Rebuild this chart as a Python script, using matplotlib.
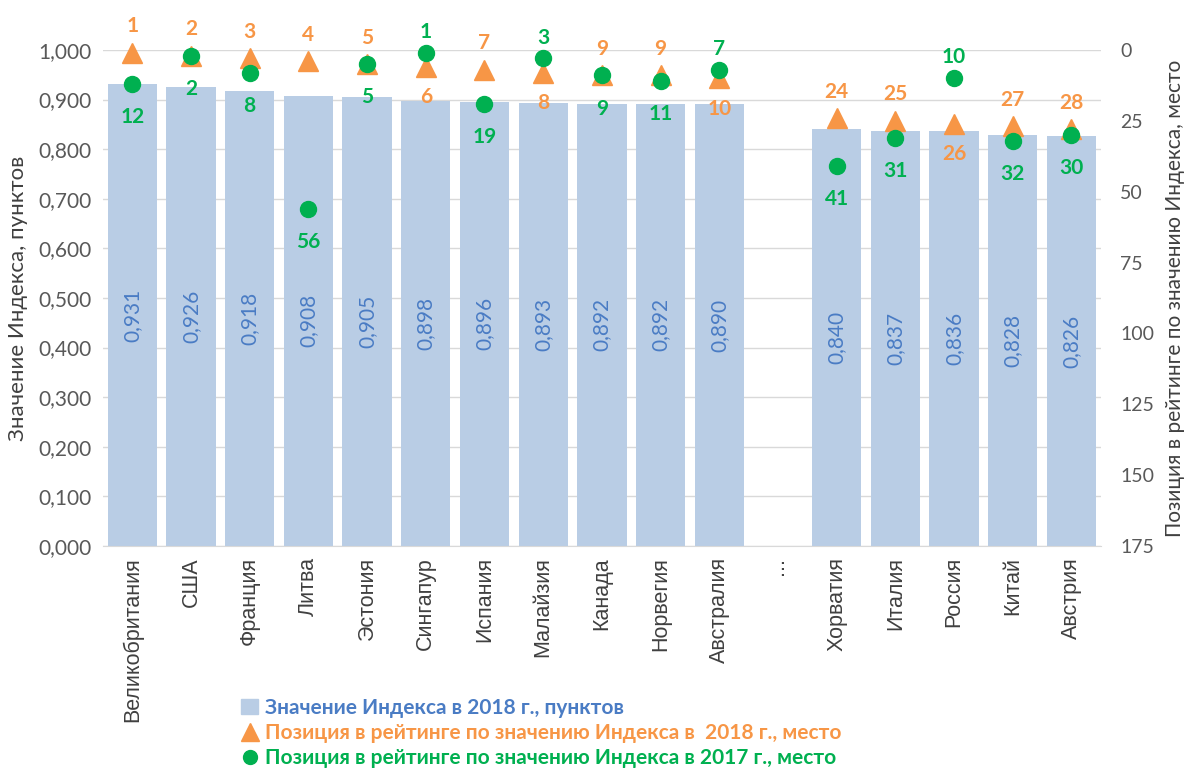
import numpy as np
import matplotlib.pyplot as plt
from matplotlib.lines import Line2D
from matplotlib.patches import Patch

countries = ['Великобритания', 'США', 'Франция', 'Литва', 'Эстония', 'Сингапур',
             'Испания', 'Малайзия', 'Канада', 'Норвегия', 'Австралия', '...',
             'Хорватия', 'Италия', 'Россия', 'Китай', 'Австрия']
index_2018 = [0.931, 0.926, 0.918, 0.908, 0.905, 0.898, 0.896, 0.893, 0.892, 0.892, 0.890,
              None, 0.840, 0.837, 0.836, 0.828, 0.826]
rank_2018 = [1, 2, 3, 4, 5, 6, 7, 8, 9, 9, 10, None, 24, 25, 26, 27, 28]
rank_2017 = [12, 2, 8, 56, 5, 1, 19, 3, 9, 11, 7, None, 41, 31, 10, 32, 30]
# where the rank labels go (1 = above marker, -1 = below)
pos_2018 = [1, 1, 1, 1, 1, -1, 1, -1, 1, 1, -1, 0, 1, 1, -1, 1, 1]
pos_2017 = [-1, -1, -1, -1, -1, 1, -1, 1, -1, -1, 1, 0, -1, -1, 1, -1, -1]

c_bar = '#B9CDE5'
c_blue = '#4A7CC4'
c_orange = '#F79646'
c_green = '#00B050'
c_gray = '#595959'
num_font = 'Lato'

fig = plt.figure(figsize=(11.85, 7.73), dpi=100)
ax = fig.add_axes([0.0869, 0.2937, 0.842, 0.6417])
ax2 = ax.twinx()

x = np.arange(len(countries))
for i, v in enumerate(index_2018):
    if v is None:
        continue
    ax.bar(x[i], v, width=0.84, color=c_bar, zorder=2)
    ax.text(x[i], v / 2, f'{v:.3f}'.replace('.', ','), rotation=90, ha='center', va='center',
            color=c_blue, fontsize=15, family=num_font, zorder=3)

ax.set_xlim(-0.5, len(countries) - 0.5)
ax.set_ylim(0, 1.0)
ax.set_yticks(np.arange(0, 1.01, 0.1))
ax.set_yticklabels([f'{t:.3f}'.replace('.', ',') for t in np.arange(0, 1.01, 0.1)],
                   family=num_font, fontsize=15, color=c_gray)
ax.set_xticks(x)
ax.set_xticklabels(countries, rotation=90, family='Liberation Sans', fontsize=15.5, color='#404040')
ax.tick_params(length=0, pad=8)
ax.grid(axis='y', color='#D9D9D9', lw=1, zorder=0)
ax.set_axisbelow(True)
for s in ['top', 'left', 'right']:
    ax.spines[s].set_visible(False)
    ax2.spines[s].set_visible(False)
ax.spines['bottom'].set_color('#D9D9D9')
ax2.spines['bottom'].set_visible(False)

ax2.set_ylim(175, 0)
ax2.set_yticks(np.arange(0, 176, 25))
ax2.set_yticklabels([str(t) for t in range(0, 176, 25)], family=num_font, fontsize=14, color=c_gray)
ax2.tick_params(length=0, pad=14)

for i in range(len(countries)):
    if rank_2018[i] is None:
        continue
    ax2.plot(x[i], rank_2018[i], marker='^', ms=15, color=c_orange, ls='none', clip_on=False, zorder=4)
    ax2.plot(x[i], rank_2017[i], marker='o', ms=11.5, color=c_green, ls='none', clip_on=False, zorder=5)
    dy18 = 19 if pos_2018[i] > 0 else -22
    dy17 = 15 if pos_2017[i] > 0 else -24
    ax2.annotate(str(rank_2018[i]), (x[i], rank_2018[i]), xytext=(0, dy18),
                 textcoords='offset points', ha='center', va='center', color=c_orange,
                 fontsize=15, fontweight='bold', family=num_font, annotation_clip=False)
    ax2.annotate(str(rank_2017[i]), (x[i], rank_2017[i]), xytext=(0, dy17),
                 textcoords='offset points', ha='center', va='center', color=c_green,
                 fontsize=15, fontweight='bold', family=num_font, annotation_clip=False)

ax.set_ylabel('Значение Индекса, пунктов', family=num_font, fontsize=16, color='#404040', labelpad=8)
ax2.set_ylabel('Позиция в рейтинге по значению Индекса, место', family=num_font, fontsize=15,
               color='#404040', rotation=90, va='center')
ax2.yaxis.set_label_coords(1.074, 0.5)

handles = [
    Patch(color=c_bar),
    Line2D([], [], marker='^', ms=13, color=c_orange, ls='none'),
    Line2D([], [], marker='o', ms=10, color=c_green, ls='none'),
]
labels = ['Значение Индекса в 2018 г., пунктов',
          'Позиция в рейтинге по значению Индекса в  2018 г., место',
          'Позиция в рейтинге по значению Индекса в 2017 г., место']
fig.legend(handles, labels, loc='upper left', bbox_to_anchor=(0.195, 0.111), frameon=False,
           labelcolor=[c_blue, c_orange, c_green], handlelength=0.8, handletextpad=0.35,
           labelspacing=0.25, borderpad=0,
           prop={'family': num_font, 'weight': 'bold', 'size': 15})

fig.savefig('out.png', dpi=100)
